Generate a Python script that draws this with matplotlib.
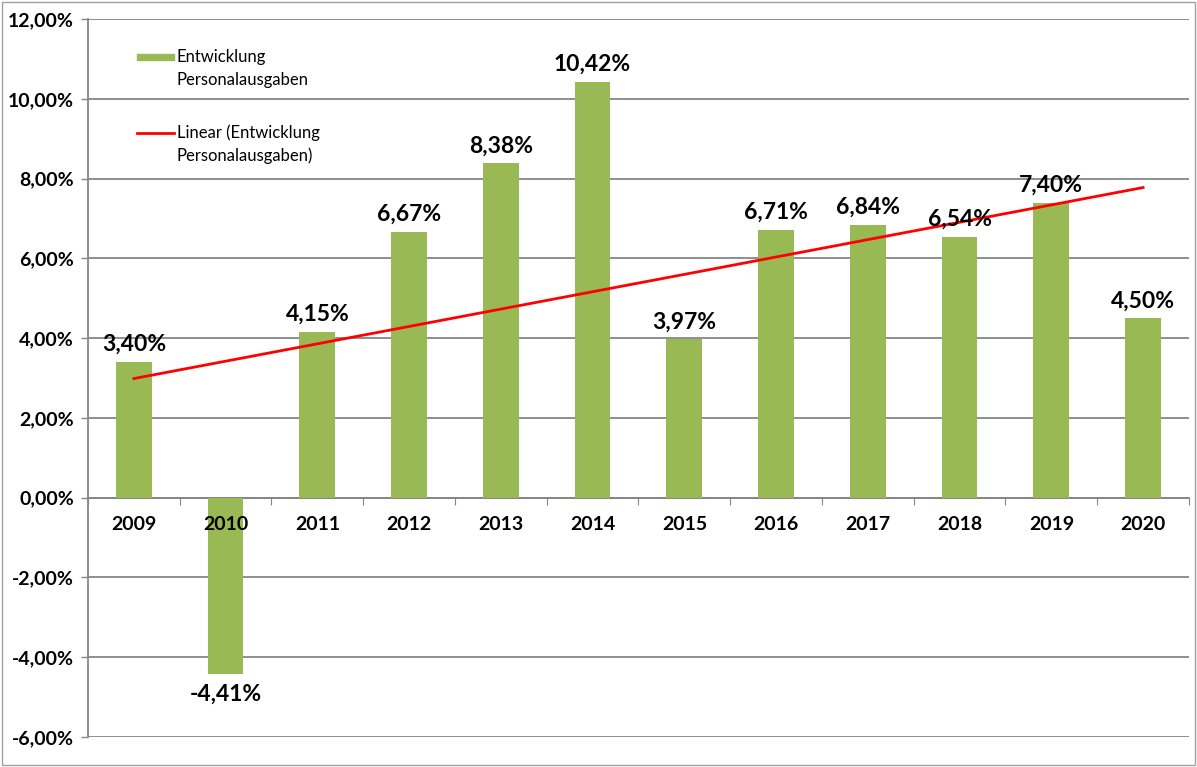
import matplotlib
matplotlib.use("Agg")
import matplotlib.pyplot as plt
import numpy as np
from matplotlib.patches import Rectangle
from matplotlib.lines import Line2D
from matplotlib.ticker import FixedLocator, FuncFormatter

plt.rcParams['font.family'] = ['Lato', 'DejaVu Sans']

years = ["2009", "2010", "2011", "2012", "2013", "2014", "2015", "2016", "2017", "2018", "2019", "2020"]
values = [3.40, -4.41, 4.15, 6.67, 8.38, 10.42, 3.97, 6.71, 6.84, 6.54, 7.40, 4.50]
labels = ["3,40%", "-4,41%", "4,15%", "6,67%", "8,38%", "10,42%", "3,97%", "6,71%", "6,84%", "6,54%", "7,40%", "4,50%"]
legend_bar = ["Entwicklung", "Personalausgaben"]
legend_trend = ["Linear (Entwicklung", "Personalausgaben)"]

bar_color = "#98b954"
grid_color = "#868686"

fig = plt.figure(figsize=(11.97, 7.67), dpi=100)
ax = fig.add_axes([0.0735, 0.0391, 0.9198, 0.9361])

x = np.arange(len(years))
ax.bar(x, values, width=0.39, color=bar_color, zorder=3)

# linear trend
coef = np.polyfit(x, values, 1)
ax.plot([x[0], x[-1]], np.polyval(coef, [x[0], x[-1]]), color="#ff0000", lw=2, zorder=4)

ax.set_xlim(-0.5, len(years) - 0.5)
ax.set_ylim(-6, 12)

# y axis
ax.yaxis.set_major_locator(FixedLocator(np.arange(-6, 12.01, 2)))
ax.yaxis.set_major_formatter(FuncFormatter(lambda v, p: f"{v:.2f}".replace(".", ",") + "%"))
ax.tick_params(axis='y', direction='out', length=5, width=1, color=grid_color, pad=5,
               labelsize=14)
for t in ax.get_yticklabels():
    t.set_fontweight('bold')
ax.grid(axis='y', color=grid_color, lw=1.3)
ax.set_axisbelow(False)
ax.yaxis.set_zorder(0.5)
ax.xaxis.set_zorder(5)

# x axis at zero
ax.spines['bottom'].set_position(('data', 0))
ax.spines['bottom'].set_color(grid_color)
ax.spines['bottom'].set_linewidth(1.3)
ax.spines['left'].set_color(grid_color)
ax.spines['left'].set_linewidth(1.3)
ax.spines['top'].set_visible(False)
ax.spines['right'].set_visible(False)
ax.set_xticks(np.arange(-0.5, len(years), 1.0))
ax.set_xticklabels([])
ax.tick_params(axis='x', which='major', direction='out', length=5, color=grid_color)
ax.set_xticks(x, minor=True)
ax.set_xticklabels(years, minor=True, fontsize=14, fontweight='bold')
ax.tick_params(axis='x', which='minor', length=0, pad=13)

# data labels
for xi, v, lab in zip(x, values, labels):
    if v >= 0:
        ax.annotate(lab, (xi, v), xytext=(0, 5), textcoords='offset points',
                    ha='center', va='bottom', fontsize=16.5, fontweight='bold', zorder=6)
    else:
        ax.annotate(lab, (xi, v), xytext=(0, -7), textcoords='offset points',
                    ha='center', va='top', fontsize=16.5, fontweight='bold', zorder=6)

# legend (drawn in figure pixel coordinates)
W, H = 1197, 767
def fx(px):
    return px / W
def fy(py):
    return 1 - py / H

fig.patches.append(Rectangle((fx(137), fy(60)), fx(174) - fx(137), 6 / H,
                             transform=fig.transFigure, color=bar_color, zorder=6))
fig.text(fx(177), fy(57), legend_bar[0], fontsize=12, va='center', ha='left')
fig.text(fx(177), fy(80), legend_bar[1], fontsize=12, va='center', ha='left')
fig.lines.append(Line2D([fx(137), fx(174)], [fy(133), fy(133)], transform=fig.transFigure,
                        color="#ff0000", lw=2))
fig.text(fx(177), fy(133), legend_trend[0], fontsize=12, va='center', ha='left')
fig.text(fx(177), fy(156), legend_trend[1], fontsize=12, va='center', ha='left')

# outer frame
fig.patches.append(Rectangle((2 / W, 2 / H), 1 - 4 / W, 1 - 4 / H, transform=fig.transFigure,
                             fill=False, edgecolor="#a0a0a0", lw=1))

fig.savefig("out.png", dpi=100)
